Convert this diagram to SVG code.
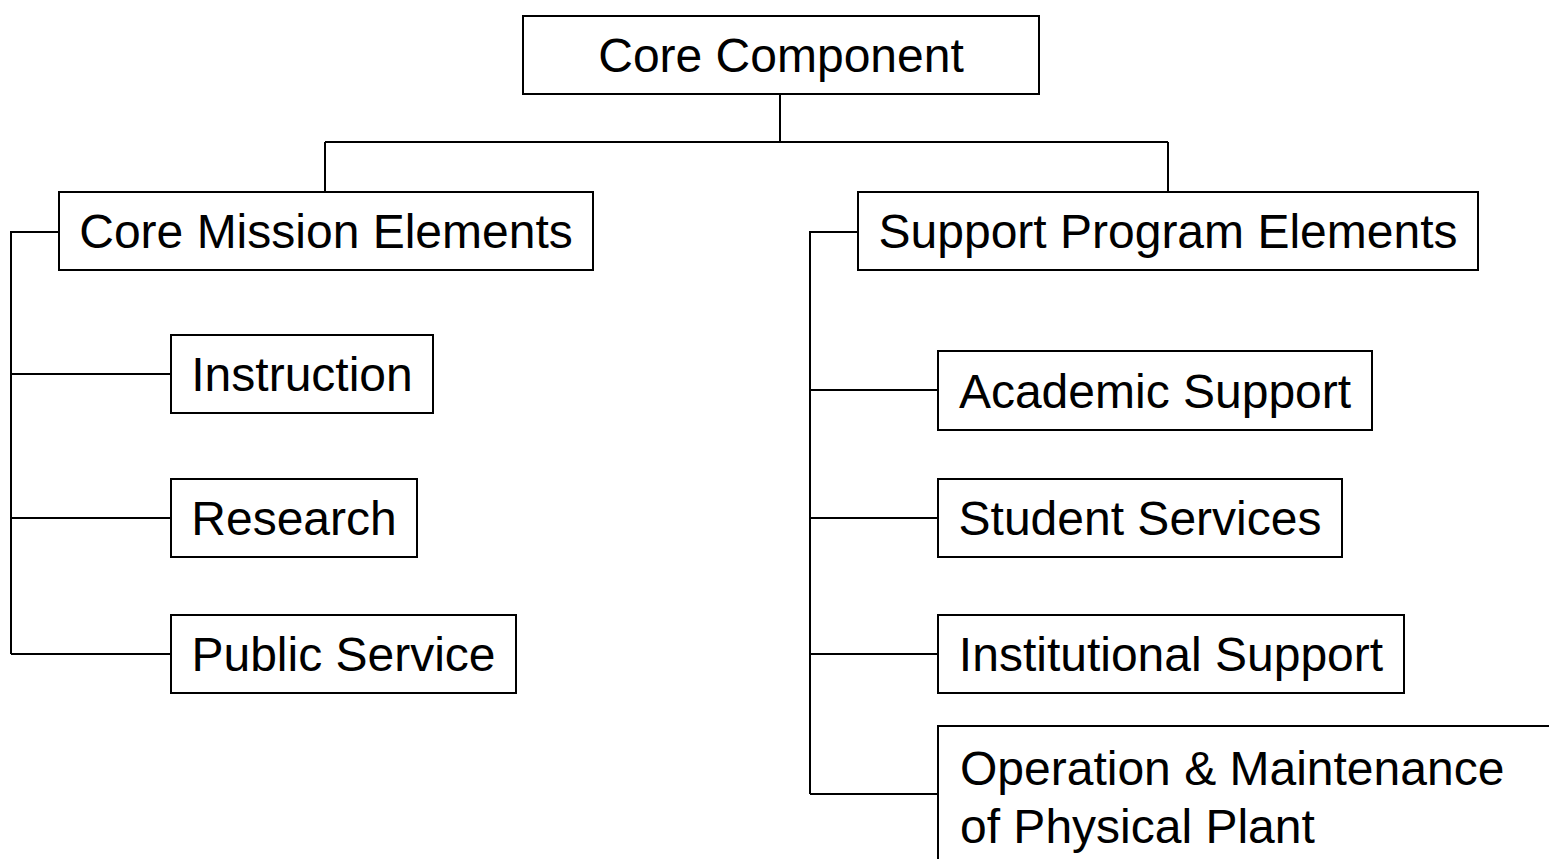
<svg xmlns="http://www.w3.org/2000/svg" width="1549" height="859" viewBox="0 0 1549 859">
<style>
.box{fill:#fff;stroke:#000;stroke-width:2}
.lbl{font-family:"Liberation Sans",Arial,sans-serif;font-size:48px;fill:#000;text-anchor:middle}
.lft{text-anchor:start}
.conn{fill:none;stroke:#000;stroke-width:2}
</style>
<rect width="1549" height="859" fill="#fff"/>
<g id="connectors">
<path class="conn" d="M780 94V142M325 142H1168M325 142V192M1168 142V192"/>
<path class="conn" d="M59 232H11V654M11 374H171M11 518H171M11 654H171"/>
<path class="conn" d="M858 232H810V794M810 390H938M810 518H938M810 654H938M810 794H938"/>
</g>
<g id="core-component"><rect class="box" x="523" y="16" width="516" height="78"/><text class="lbl" x="781" y="72">Core Component</text></g>
<g id="core-mission"><rect class="box" x="59" y="192" width="534" height="78"/><text class="lbl" x="326" y="248">Core Mission Elements</text></g>
<g id="support-program"><rect class="box" x="858" y="192" width="620" height="78"/><text class="lbl" x="1168" y="248">Support Program Elements</text></g>
<g id="instruction"><rect class="box" x="171" y="335" width="262" height="78"/><text class="lbl" x="302" y="391">Instruction</text></g>
<g id="research"><rect class="box" x="171" y="479" width="246" height="78"/><text class="lbl" x="294" y="535">Research</text></g>
<g id="public-service"><rect class="box" x="171" y="615" width="345" height="78"/><text class="lbl" x="343.5" y="671">Public Service</text></g>
<g id="academic-support"><rect class="box" x="938" y="351" width="434" height="79"/><text class="lbl" x="1155" y="408">Academic Support</text></g>
<g id="student-services"><rect class="box" x="938" y="479" width="404" height="78"/><text class="lbl" x="1140" y="535">Student Services</text></g>
<g id="institutional-support"><rect class="box" x="938" y="615" width="466" height="78"/><text class="lbl" x="1171" y="671">Institutional Support</text></g>
<g id="operation-maintenance"><rect class="box" x="938" y="726" width="640" height="160"/><text class="lbl lft" x="960" y="785">Operation &amp; Maintenance</text><text class="lbl lft" x="960" y="843">of Physical Plant</text></g>
</svg>
